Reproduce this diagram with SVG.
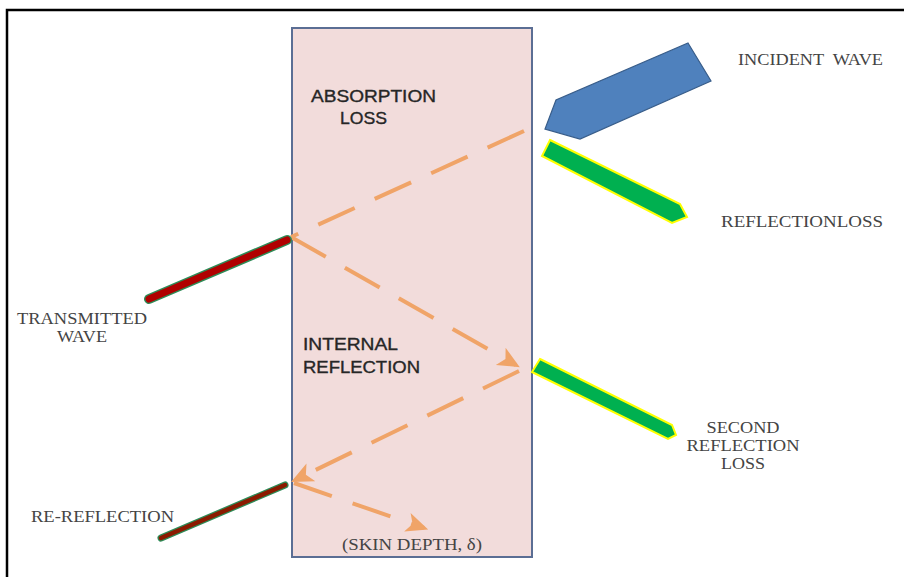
<svg xmlns="http://www.w3.org/2000/svg" width="904" height="577" viewBox="0 0 904 577">
<defs>
<style>
.serif{font-family:"Liberation Serif","Times New Roman",serif;font-size:16px;fill:#444444;}
.sans{font-family:"Liberation Sans",Arial,sans-serif;font-size:17px;fill:#262626;stroke:#262626;stroke-width:0.35;}
.ray{fill:none;stroke:#f0a468;stroke-width:4;stroke-dasharray:40 22;}
</style>
<marker id="ah" viewBox="0 0 10 10" refX="8" refY="5" markerWidth="5.5" markerHeight="5.5" orient="auto" markerUnits="strokeWidth">
<path d="M0,0.5 L10,5 L0,9.5 L2.5,5 Z" fill="#f0a468"/>
</marker>
</defs>
<rect width="904" height="577" fill="#ffffff"/>
<path d="M7,577 L7,10 L904,10" fill="none" stroke="#000" stroke-width="2.5"/>
<g id="slab">
<rect x="292" y="28" width="240" height="529" fill="#f2dcdb" stroke="#5b6e94" stroke-width="2"/>
</g>
<g id="connectors">
<path class="ray" d="M524,131 L291,237"/>
<path class="ray" d="M291,237 L516,365" marker-end="url(#ah)"/>
<path class="ray" d="M519,371 L295,480" marker-end="url(#ah)"/>
<path class="ray" d="M294,483 L424,528" marker-end="url(#ah)"/>
</g>
<g id="incident">
<polygon points="688,43 711,81 580,139 545,129 556,100" fill="#4f81bd" stroke="#385d8a" stroke-width="1.2"/>
<text class="serif" x="738" y="65" textLength="145" lengthAdjust="spacingAndGlyphs" xml:space="preserve">INCIDENT  WAVE</text>
</g>
<g id="reflection">
<polygon points="550,140 680,204 687,217 672,223 542,156" fill="#00b050" stroke="#ffff00" stroke-width="2"/>
<text class="serif" x="721" y="227" textLength="162" lengthAdjust="spacingAndGlyphs">REFLECTIONLOSS</text>
</g>
<g id="second">
<polygon points="540,359 672,425 676,435 668,439 532,372" fill="#00b050" stroke="#ffff00" stroke-width="2"/>
<text class="serif" x="743" y="433" text-anchor="middle" textLength="73" lengthAdjust="spacingAndGlyphs">SECOND</text>
<text class="serif" x="743" y="451" text-anchor="middle" textLength="113" lengthAdjust="spacingAndGlyphs">REFLECTION</text>
<text class="serif" x="743" y="469" text-anchor="middle" textLength="44" lengthAdjust="spacingAndGlyphs">LOSS</text>
</g>
<g id="transmitted">
<line x1="287" y1="240" x2="149" y2="299" stroke="#2e8b57" stroke-width="10" stroke-linecap="round"/>
<line x1="287" y1="240" x2="149" y2="299" stroke="#b00000" stroke-width="7" stroke-linecap="round"/>
<text class="serif" x="82" y="324" text-anchor="middle" textLength="130" lengthAdjust="spacingAndGlyphs">TRANSMITTED</text>
<text class="serif" x="82" y="342" text-anchor="middle" textLength="50" lengthAdjust="spacingAndGlyphs">WAVE</text>
</g>
<g id="rereflection">
<line x1="285" y1="485" x2="161" y2="538" stroke="#2e8b57" stroke-width="7" stroke-linecap="round"/>
<line x1="285" y1="485" x2="161" y2="538" stroke="#8b1a00" stroke-width="4.5" stroke-linecap="round"/>
<text class="serif" x="31" y="522" textLength="143" lengthAdjust="spacingAndGlyphs">RE-REFLECTION</text>
</g>
<g id="absorption">
<text class="sans" x="311" y="102" textLength="125" lengthAdjust="spacingAndGlyphs">ABSORPTION</text>
<text class="sans" x="340" y="124" textLength="47" lengthAdjust="spacingAndGlyphs">LOSS</text>
</g>
<g id="internal">
<text class="sans" x="303" y="350" textLength="95" lengthAdjust="spacingAndGlyphs">INTERNAL</text>
<text class="sans" x="303" y="373" textLength="117" lengthAdjust="spacingAndGlyphs">REFLECTION</text>
</g>
<g id="skindepth">
<text class="serif" x="342" y="550" textLength="140" lengthAdjust="spacingAndGlyphs">(SKIN DEPTH, δ)</text>
</g>
</svg>
